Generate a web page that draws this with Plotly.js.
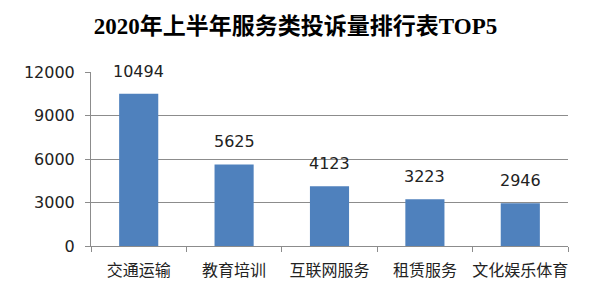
<!DOCTYPE html>
<html><head><meta charset="utf-8">
<script src="https://cdn.plot.ly/plotly-3.0.1.min.js"></script>
<style>html,body{margin:0;padding:0;background:#fff}#c{width:591px;height:305px}</style>
</head><body><div id="c"></div>
<script>
const categories = ["交通运输", "教育培训", "互联网服务", "租赁服务", "文化娱乐体育"];
const values = [10494, 5625, 4123, 3223, 2946];
const yTicks = [0, 3000, 6000, 9000, 12000];
const titleText = "2020年上半年服务类投诉量排行表TOP5";

const trace = {
  type: "bar", x: categories, y: values,
  marker: {color: "#4F81BD"}, width: 0.41, hoverinfo: "none"
};
const annotations = categories.map((c, i) => ({
  x: c, y: values[i], xref: "x", yref: "y", text: String(values[i]),
  showarrow: false, yanchor: "bottom", yshift: 11,
  font: {family: "DejaVu Sans, sans-serif", size: 16, color: "#222"}
}));
const layout = {
  width: 591, height: 305,
  margin: {l: 91, r: 23, t: 72, b: 59},
  paper_bgcolor: "#fff", plot_bgcolor: "#fff",
  showlegend: false,
  title: {text: "<b>" + titleText + "</b>", x: 0.5, xanchor: "center", y: 0.915, yanchor: "middle",
    font: {family: "Liberation Serif, Times New Roman, Noto Sans CJK SC, serif", size: 23, color: "#000"}},
  xaxis: {type: "category", showline: true, linecolor: "#8c8c8c", linewidth: 1,
    ticks: "outside", tickson: "boundaries", ticklen: 5, tickcolor: "#8c8c8c",
    tickangle: 0, automargin: false, ticklabelstandoff: 10,
    tickfont: {family: "Noto Sans CJK SC, sans-serif", size: 16, color: "#222"},
    showgrid: false, fixedrange: true},
  yaxis: {range: [0, 12000], tickvals: yTicks, ticktext: yTicks.map(String),
    showline: true, linecolor: "#8c8c8c", linewidth: 1,
    ticks: "outside", ticklen: 5, tickcolor: "#8c8c8c", ticklabelstandoff: 7,
    showgrid: true, gridcolor: "#8c8c8c", gridwidth: 1, zeroline: false,
    tickfont: {family: "DejaVu Sans, sans-serif", size: 16, color: "#222"},
    automargin: false, fixedrange: true},
  annotations: annotations
};
Plotly.newPlot("c", [trace], layout, {displayModeBar: false, staticPlot: true});
</script></body></html>
